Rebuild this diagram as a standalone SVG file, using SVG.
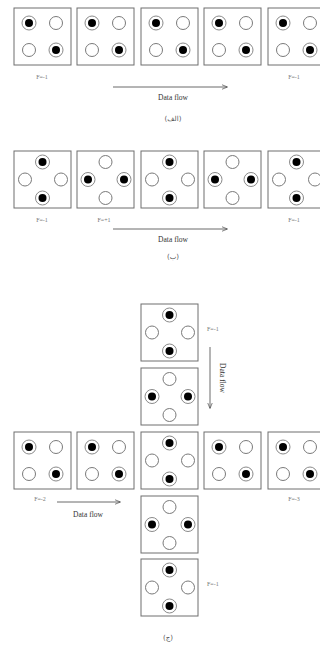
<svg xmlns="http://www.w3.org/2000/svg" xmlns:xlink="http://www.w3.org/1999/xlink" width="320" height="648" viewBox="0 0 320 648">
<style>
.box{fill:#fff;stroke:#6e6e6e;stroke-width:1}
.ring{fill:#fff;stroke:#8a8a8a;stroke-width:1}
.dot{fill:#000}
.open{fill:#fff;stroke:#7a7a7a;stroke-width:1}
.lbl{font-family:"Liberation Serif",serif;font-size:6px;fill:#777}
.df{font-family:"Liberation Serif",serif;font-size:7.5px;fill:#333}
.cap{font-family:"DejaVu Sans","Noto Sans",sans-serif;font-size:7px;fill:#555}
.arr{stroke:#444;stroke-width:0.8;fill:none}
</style>
<defs>
<marker id="ah" viewBox="0 0 10 10" refX="9" refY="5" markerWidth="7" markerHeight="7" orient="auto">
<path d="M0,1 L10,5 L0,9" fill="none" stroke="#444" stroke-width="1.2"/>
</marker>
<g id="f"><circle class="ring" r="7"/><circle class="dot" r="4"/></g>
<g id="o"><circle class="open" r="6.5"/></g>
<g id="patA">
<rect class="box" x="0" y="0" width="57" height="57"/>
<use xlink:href="#f" x="15" y="15"/><use xlink:href="#o" x="42" y="15"/>
<use xlink:href="#o" x="15" y="42"/><use xlink:href="#f" x="42" y="42"/>
</g>
<g id="patV">
<rect class="box" x="0" y="0" width="57" height="57"/>
<use xlink:href="#f" x="28.5" y="11"/><use xlink:href="#o" x="11" y="28.5"/>
<use xlink:href="#o" x="47" y="28.5"/><use xlink:href="#f" x="28.5" y="47"/>
</g>
<g id="patH">
<rect class="box" x="0" y="0" width="57" height="57"/>
<use xlink:href="#o" x="28.5" y="11"/><use xlink:href="#f" x="11" y="28.5"/>
<use xlink:href="#f" x="47" y="28.5"/><use xlink:href="#o" x="28.5" y="47"/>
</g>
</defs>

<!-- (a) -->
<g id="a1" transform="translate(14,8)"><use xlink:href="#patA"/></g>
<g id="a2" transform="translate(77,8)"><use xlink:href="#patA"/></g>
<g id="a3" transform="translate(141,8)"><use xlink:href="#patA"/></g>
<g id="a4" transform="translate(204,8)"><use xlink:href="#patA"/></g>
<g id="a5" transform="translate(268,8)"><use xlink:href="#patA"/></g>

<!-- (b) -->
<g id="b1" transform="translate(14,151)"><use xlink:href="#patV"/></g>
<g id="b2" transform="translate(77,151)"><use xlink:href="#patH"/></g>
<g id="b3" transform="translate(141,151)"><use xlink:href="#patV"/></g>
<g id="b4" transform="translate(204,151)"><use xlink:href="#patH"/></g>
<g id="b5" transform="translate(268,151)"><use xlink:href="#patV"/></g>

<!-- (c) -->
<g id="c1" transform="translate(141,304)"><use xlink:href="#patV"/></g>
<g id="c2" transform="translate(141,368)"><use xlink:href="#patH"/></g>
<g id="c3" transform="translate(14,432)"><use xlink:href="#patA"/></g>
<g id="c4" transform="translate(77,432)"><use xlink:href="#patA"/></g>
<g id="c5" transform="translate(141,432)"><use xlink:href="#patV"/></g>
<g id="c6" transform="translate(204,432)"><use xlink:href="#patA"/></g>
<g id="c7" transform="translate(268,432)"><use xlink:href="#patA"/></g>
<g id="c8" transform="translate(141,496)"><use xlink:href="#patH"/></g>
<g id="c9" transform="translate(141,559)"><use xlink:href="#patV"/></g>

<g id="connectors">
<line class="arr" x1="113" y1="87" x2="227" y2="87" marker-end="url(#ah)"/>
<line class="arr" x1="113" y1="229" x2="227" y2="229" marker-end="url(#ah)"/>
<line class="arr" x1="210" y1="347" x2="210" y2="408" marker-end="url(#ah)"/>
<line class="arr" x1="57" y1="502" x2="120" y2="502" marker-end="url(#ah)"/>
</g>

<g id="labels">
<text class="lbl" x="42" y="79" text-anchor="middle">F=-1</text>
<text class="lbl" x="294" y="79" text-anchor="middle">F=-1</text>
<text class="df" x="173" y="100" text-anchor="middle">Data flow</text>
<text class="cap" x="173" y="121" text-anchor="middle">(الف)</text>

<text class="lbl" x="42" y="222" text-anchor="middle">F=-1</text>
<text class="lbl" x="104" y="222" text-anchor="middle">F=+1</text>
<text class="lbl" x="294" y="222" text-anchor="middle">F=-1</text>
<text class="df" x="173" y="242" text-anchor="middle">Data flow</text>
<text class="cap" x="173" y="259" text-anchor="middle">(ب)</text>

<text class="lbl" x="207" y="331">F=-1</text>
<text class="df" transform="translate(220,378) rotate(90)" text-anchor="middle">Data flow</text>
<text class="lbl" x="40" y="501" text-anchor="middle">F=-2</text>
<text class="df" x="88" y="517" text-anchor="middle">Data flow</text>
<text class="lbl" x="294" y="501" text-anchor="middle">F=-3</text>
<text class="lbl" x="207" y="586">F=-1</text>
<text class="cap" x="168" y="640" text-anchor="middle">(ج)</text>
</g>
</svg>
